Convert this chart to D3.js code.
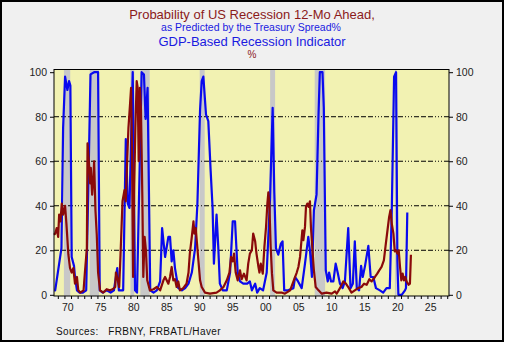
<!DOCTYPE html>
<html>
<head>
<meta charset="utf-8">
<script src="https://cdn.jsdelivr.net/npm/d3@7"></script>
<style>
  body { margin: 0; background: #fff; }
  text { font-family: "Liberation Sans", Arial, sans-serif; }
</style>
</head>
<body>
<div id="chart"></div>
<script>
// recession probability, predicted from the treasury spread  [year, %]
const spreadProb = [
  [1968.42, 27], [1968.6, 27.5], [1968.83, 30], [1969.05, 26], [1969.2, 36], [1969.4, 33], [1969.6, 41],
  [1969.8, 36], [1970.1, 40], [1970.3, 32], [1970.6, 18], [1970.85, 12], [1971.1, 10], [1971.35, 12],
  [1971.6, 5], [1971.9, 8], [1972.1, 2], [1972.4, 1], [1972.9, 2], [1973.1, 10], [1973.4, 21],
  [1973.5, 68], [1973.7, 60], [1973.9, 50], [1974.0, 57], [1974.2, 45], [1974.4, 53], [1974.5, 60],
  [1974.7, 38], [1974.9, 27], [1975.1, 10], [1975.4, 2], [1975.9, 1], [1976.4, 2.5], [1976.9, 2],
  [1977.3, 2.5], [1977.7, 3.5], [1977.8, 10], [1978.1, 6.5], [1978.3, 3.5], [1978.5, 18], [1978.8, 42],
  [1979.1, 47], [1979.3, 42], [1979.5, 60], [1979.7, 75], [1979.95, 86], [1980.1, 93], [1980.25, 60],
  [1980.4, 8], [1980.55, 45], [1980.75, 75], [1980.95, 96], [1981.1, 93], [1981.25, 60], [1981.45, 93],
  [1981.6, 83], [1981.8, 45], [1981.95, 8], [1982.15, 26], [1982.35, 20], [1982.55, 6.5], [1982.95, 2],
  [1983.5, 2.5], [1984.0, 3.5], [1984.5, 2], [1985.0, 6.5], [1985.25, 8], [1985.75, 5], [1986.0, 8],
  [1986.25, 12.5], [1986.5, 6.5], [1986.75, 7], [1987.0, 3.5], [1987.25, 6], [1987.5, 2], [1988.0, 3],
  [1988.5, 5], [1988.8, 10], [1989.0, 18.5], [1989.3, 26], [1989.55, 33], [1989.7, 27.5], [1989.9, 30],
  [1990.05, 24.5], [1990.3, 15.5], [1990.55, 6.5], [1990.8, 3.5], [1991.3, 1], [1992.05, 0.5],
  [1993.05, 1], [1993.55, 2], [1994.1, 3.5], [1994.6, 6.5], [1995.0, 10], [1995.25, 17], [1995.5, 15],
  [1995.7, 18.5], [1995.95, 10], [1996.25, 6.5], [1996.6, 11], [1996.85, 7], [1997.2, 9.5], [1997.6, 6.5],
  [1997.85, 14], [1998.1, 18.5], [1998.4, 20], [1998.6, 27.5], [1998.9, 24], [1999.1, 18.5], [1999.4, 12.5],
  [1999.55, 10], [1999.75, 14], [2000.05, 9.5], [2000.3, 21.5], [2000.55, 30.5], [2000.75, 41], [2000.9, 46],
  [2001.05, 41], [2001.25, 21.5], [2001.45, 9.5], [2001.65, 2], [2002.15, 1], [2002.9, 1], [2003.4, 0.5],
  [2004.2, 2], [2004.7, 6], [2005.2, 10], [2005.45, 12.5], [2005.7, 17], [2006.05, 29], [2006.2, 24.5],
  [2006.45, 30.5], [2006.6, 39.5], [2006.8, 41], [2007.0, 39.5], [2007.2, 42], [2007.35, 30.5],
  [2007.55, 21.5], [2007.8, 11], [2008.07, 3.5], [2008.5, 2], [2009.0, 0.5], [2009.7, 1], [2010.5, 0.5],
  [2011.0, 1.5], [2011.25, 0.5], [2011.75, 3], [2012.25, 6], [2012.65, 5], [2013.0, 3.5], [2013.5, 1],
  [2014.0, 2], [2014.5, 3], [2015.0, 3.5], [2015.4, 5], [2015.8, 4.5], [2016.2, 7], [2016.55, 6],
  [2017.05, 8], [2017.4, 9.5], [2017.7, 11], [2018.05, 12.5], [2018.4, 15.5], [2018.7, 23], [2018.95, 29],
  [2019.2, 35], [2019.4, 38], [2019.6, 32], [2019.85, 27.5], [2020.05, 19.5], [2020.25, 20], [2020.45, 18.5],
  [2020.65, 20], [2020.85, 12.5], [2021.05, 6.5], [2021.25, 9.5], [2021.45, 6.5], [2021.65, 8],
  [2021.85, 6], [2022.15, 4.5], [2022.35, 5], [2022.5, 18]
];

// GDP-based recession indicator  [year, %]
const gdpIndicator = [
  [1968.45, 2], [1968.6, 2], [1969.1, 12], [1969.55, 21], [1969.8, 75], [1970.1, 98], [1970.45, 92],
  [1970.7, 96], [1970.9, 94], [1971.1, 17], [1971.45, 13], [1971.6, 8], [1971.9, 2], [1972.3, 1],
  [1972.8, 1], [1973.3, 2], [1973.6, 45], [1973.95, 99], [1974.5, 100], [1975.1, 100], [1975.35, 2],
  [1975.8, 1], [1976.4, 2], [1977.0, 1], [1977.5, 2], [1977.75, 7], [1978.0, 12], [1978.25, 2],
  [1978.9, 2], [1979.3, 70], [1979.6, 41], [1979.85, 39], [1980.35, 100], [1980.7, 2], [1981.0, 1],
  [1981.7, 100], [1982.05, 99], [1982.3, 79], [1982.6, 93], [1983.0, 2], [1983.5, 1], [1984.0, 2],
  [1984.5, 6], [1984.8, 30], [1985.25, 17], [1985.75, 26], [1986.0, 26], [1986.25, 15], [1986.5, 20],
  [1986.75, 12], [1987.25, 3], [1987.8, 2], [1988.3, 3], [1988.8, 5], [1989.3, 10], [1989.8, 21],
  [1990.15, 41], [1990.55, 83], [1990.8, 96], [1991.05, 98], [1991.45, 81], [1991.8, 78], [1992.15, 56],
  [1992.45, 39], [1992.65, 14], [1993.05, 36], [1993.3, 22], [1993.55, 5], [1994.0, 2], [1994.6, 2],
  [1995.1, 10], [1995.5, 33], [1995.85, 33], [1996.25, 10], [1996.6, 6], [1997.1, 5], [1997.7, 5],
  [1998.1, 6], [1998.4, 2], [1998.9, 5], [1999.2, 1], [1999.6, 3], [2000.1, 2], [2000.65, 10],
  [2001.15, 43], [2001.55, 84], [2001.8, 46], [2002.05, 21], [2002.4, 18], [2002.8, 23], [2003.05, 24],
  [2003.3, 2], [2003.9, 2], [2004.7, 3], [2004.95, 8], [2005.4, 6], [2005.95, 3], [2006.45, 14],
  [2006.95, 26], [2007.2, 20], [2007.5, 8], [2007.8, 38], [2008.2, 45], [2008.5, 81], [2008.7, 100],
  [2009.1, 100], [2009.3, 84], [2009.6, 11], [2009.9, 6], [2010.1, 10], [2010.4, 6], [2010.75, 6],
  [2011.1, 14], [2011.4, 10], [2011.75, 5], [2012.15, 3], [2012.5, 6], [2013.0, 30], [2013.35, 3],
  [2013.7, 5], [2014.0, 24], [2014.3, 3], [2014.65, 2], [2014.95, 13], [2015.2, 8], [2015.55, 13],
  [2016.05, 22], [2016.4, 8], [2016.8, 8], [2017.2, 3], [2017.8, 2], [2018.3, 1], [2018.8, 3],
  [2019.3, 3], [2019.6, 38], [2019.95, 98], [2020.25, 100], [2020.45, 15], [2020.6, 0], [2021.1, 0],
  [2021.6, 2], [2021.75, 3], [2021.95, 37]
];

// NBER recessions, start / end as fractional years
const recessions = [
  [1969.92, 1970.88], [1973.83, 1975.25], [1980.0, 1980.58], [1981.5, 1982.92],
  [1990.5, 1991.25], [2001.17, 2001.92], [2007.92, 2009.5], [2020.08, 2020.33]
];

const yTicks = [0, 20, 40, 60, 80, 100];
const gridLevels = [20, 40, 60, 80];
const xLabelYears = [1970, 1975, 1980, 1985, 1990, 1995, 2000, 2005, 2010, 2015, 2020, 2025];

const W = 505, H = 343;
const plot = { left: 54, right: 449, top: 69.5, bottom: 296 };

const svg = d3.select("#chart").append("svg")
  .attr("width", W)
  .attr("height", H);

// frame of the whole chart
svg.append("rect")
  .attr("x", 1).attr("y", 1)
  .attr("width", W - 3).attr("height", H - 3)
  .attr("fill", "#f0f0f0")
  .attr("stroke", "#000")
  .attr("stroke-width", 2);

const x = d3.scaleLinear().domain([1968.42, 2028.27]).range([plot.left, plot.right]);
const y = d3.scaleLinear().domain([0, 100]).range([294.8, 72.2]);

// plot background
svg.append("rect")
  .attr("x", plot.left).attr("y", plot.top)
  .attr("width", plot.right - plot.left)
  .attr("height", plot.bottom - plot.top)
  .attr("fill", "#f2f2b2");

// recession shading
svg.append("g").selectAll("rect")
  .data(recessions)
  .join("rect")
  .attr("x", d => x(d[0]))
  .attr("width", d => x(d[1]) - x(d[0]))
  .attr("y", plot.top)
  .attr("height", plot.bottom - plot.top)
  .attr("fill", "#c8c8c8");

// dashed grid
svg.append("g").selectAll("line")
  .data(gridLevels)
  .join("line")
  .attr("x1", plot.left).attr("x2", plot.right)
  .attr("y1", d => y(d)).attr("y2", d => y(d))
  .attr("stroke", "#000")
  .attr("stroke-width", 1)
  .attr("stroke-dasharray", "5,2,5,2,5,2,1,2,1,2,1,2");

const line = d3.line()
  .x(d => x(d[0]))
  .y(d => y(d[1]));

svg.append("path")
  .datum(gdpIndicator)
  .attr("d", line)
  .attr("fill", "none")
  .attr("stroke", "#0a0aee")
  .attr("stroke-width", 2.2)
  .attr("stroke-linejoin", "round");

svg.append("path")
  .datum(spreadProb)
  .attr("d", line)
  .attr("fill", "none")
  .attr("stroke", "#8a0a0a")
  .attr("stroke-width", 2.2)
  .attr("stroke-linejoin", "round");

// plot border
svg.append("rect")
  .attr("x", plot.left).attr("y", plot.top)
  .attr("width", plot.right - plot.left)
  .attr("height", plot.bottom - plot.top)
  .attr("fill", "none")
  .attr("stroke", "#000")
  .attr("stroke-width", 1);

// axes
const axisL = svg.append("g")
  .attr("transform", `translate(${plot.left},0)`)
  .call(d3.axisLeft(y).tickValues(yTicks).tickSize(4).tickPadding(3));
const axisR = svg.append("g")
  .attr("transform", `translate(${plot.right},0)`)
  .call(d3.axisRight(y).tickValues(yTicks).tickSize(4).tickPadding(3));

const years = d3.range(1969, 2029);
const axisB = svg.append("g")
  .attr("transform", `translate(0,${plot.bottom})`)
  .call(d3.axisBottom(x).tickValues(years).tickSize(3).tickFormat(""));

// year labels sit in the middle of their year
svg.append("g").selectAll("text")
  .data(xLabelYears)
  .join("text")
  .attr("x", d => x(d + 0.5))
  .attr("y", 311)
  .attr("text-anchor", "middle")
  .attr("font-size", 10.5)
  .attr("fill", "#222")
  .text(d => String(d % 100).padStart(2, "0"));

[axisL, axisR, axisB].forEach(a => {
  a.select(".domain").remove();
  a.selectAll("line").attr("stroke", "#000");
  a.selectAll("text")
    .attr("font-size", 10.5)
    .attr("fill", "#222")
    .style("font-family", "Liberation Sans, Arial, sans-serif");
});

// titles
const title = svg.append("g").attr("text-anchor", "middle");
title.append("text").attr("x", 252).attr("y", 19)
  .attr("font-size", 13).attr("fill", "#8b1a1a")
  .text("Probability of US Recession 12-Mo Ahead,");
title.append("text").attr("x", 251).attr("y", 31)
  .attr("font-size", 10.5).attr("fill", "#1a1ae0")
  .text("as Predicted by the Treasury Spread%");
title.append("text").attr("x", 252).attr("y", 46)
  .attr("font-size", 13).attr("fill", "#1a1ae0")
  .text("GDP-Based Recession Indicator");
title.append("text").attr("x", 252).attr("y", 58)
  .attr("font-size", 10).attr("fill", "#8b1a1a")
  .text("%");

svg.append("text")
  .attr("x", 56).attr("y", 335)
  .attr("font-size", 10)
  .attr("letter-spacing", 0.4)
  .attr("fill", "#111")
  .attr("xml:space", "preserve")
  .style("white-space", "pre")
  .text("Sources:   FRBNY, FRBATL/Haver");
</script>
</body>
</html>
